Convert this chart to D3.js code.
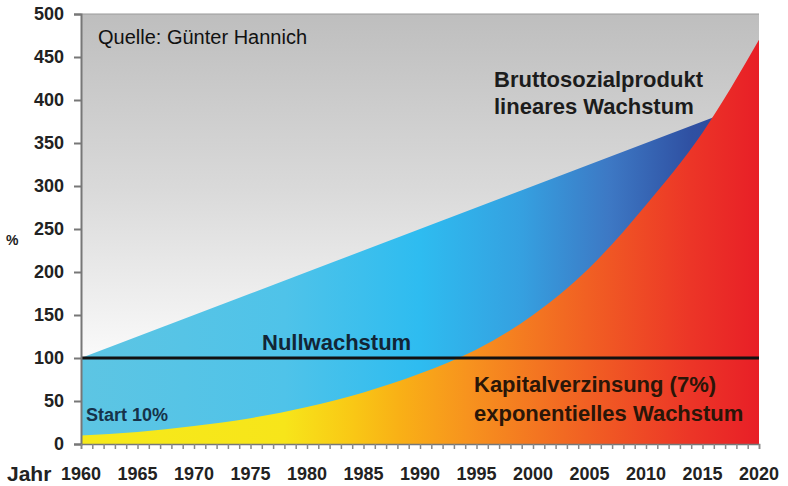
<!DOCTYPE html>
<html>
<head>
<meta charset="utf-8">
<script src="https://cdn.jsdelivr.net/npm/d3@7"></script>
<style>
  body { margin: 0; background: #fff; }
  svg text { font-family: "Liberation Sans", Arial, sans-serif; }
</style>
</head>
<body>
<svg width="788" height="486"></svg>
<script>
var svg = d3.select("svg");

// data
var years = [1960, 1965, 1970, 1975, 1980, 1985, 1990, 1995, 2000, 2005, 2010, 2015, 2020];
var linear = [100, 125, 150, 175, 200, 225, 250, 275, 300, 325, 350, 375, 400];
var exponential = [10, 14, 21, 30, 43, 60, 82, 110, 150, 205, 278, 362, 470];
var yTicks = [0, 50, 100, 150, 200, 250, 300, 350, 400, 450, 500];
var xLabels = [1960, 1965, 1970, 1975, 1980, 1985, 1990, 1995, 2000, 2005, 2010, 2015, 2020];
var baseline = 100;

var x = d3.scaleLinear().domain([1960, 2020]).range([81, 759]);
var y = d3.scaleLinear().domain([0, 500]).range([444, 14]);

var defs = svg.append("defs");

var bg = defs.append("linearGradient").attr("id", "bg")
    .attr("gradientUnits", "userSpaceOnUse")
    .attr("x1", 0).attr("x2", 0).attr("y1", y(500)).attr("y2", y(100));
bg.append("stop").attr("offset", 0).attr("stop-color", "#bebebe");
bg.append("stop").attr("offset", 0.5).attr("stop-color", "#d9d9d9");
bg.append("stop").attr("offset", 0.85).attr("stop-color", "#f0f0f0");
bg.append("stop").attr("offset", 1).attr("stop-color", "#fafafa");

var blue = defs.append("linearGradient").attr("id", "blue")
    .attr("gradientUnits", "userSpaceOnUse")
    .attr("x1", x(1960)).attr("x2", x(2020)).attr("y1", 0).attr("y2", 0);
[[0, "#5dc5e3"], [0.3, "#4fc3e9"], [0.5, "#2ebcf0"], [0.65, "#35a0e0"],
 [0.78, "#3d78c4"], [0.9, "#2f50a2"], [1, "#2c4598"]].forEach(function(s) {
    blue.append("stop").attr("offset", s[0]).attr("stop-color", s[1]);
});

var hot = defs.append("linearGradient").attr("id", "hot")
    .attr("gradientUnits", "userSpaceOnUse")
    .attr("x1", x(1960)).attr("x2", x(2020)).attr("y1", 0).attr("y2", 0);
[[0, "#f6ea1a"], [0.3, "#f7e51a"], [0.4, "#f9c815"], [0.47, "#f9b016"],
 [0.57, "#f7931e"], [0.71, "#f26a22"], [0.9, "#ec3527"], [1, "#e81f27"]].forEach(function(s) {
    hot.append("stop").attr("offset", s[0]).attr("stop-color", s[1]);
});

// plot background
svg.append("rect")
    .attr("x", x(1960)).attr("y", y(500))
    .attr("width", x(2020) - x(1960)).attr("height", y(0) - y(500))
    .attr("fill", "url(#bg)");

var blueArea = d3.area()
    .x(function(d, i) { return x(years[i]); })
    .y0(y(0))
    .y1(function(d) { return y(d); });

svg.append("path").datum(linear)
    .attr("d", blueArea)
    .attr("fill", "url(#blue)");

var hotArea = d3.area()
    .curve(d3.curveMonotoneX)
    .x(function(d, i) { return x(years[i]); })
    .y0(y(0))
    .y1(function(d) { return y(d); });

svg.append("path").datum(exponential)
    .attr("d", hotArea)
    .attr("fill", "url(#hot)");

// top edge
svg.append("line")
    .attr("x1", x(1960)).attr("x2", x(2020))
    .attr("y1", y(500)).attr("y2", y(500))
    .attr("stroke", "#999").attr("stroke-width", 1);

// Nullwachstum line
svg.append("line")
    .attr("x1", x(1960)).attr("x2", x(2020))
    .attr("y1", y(baseline)).attr("y2", y(baseline))
    .attr("stroke", "#111").attr("stroke-width", 3);

// y axis
var yAxis = svg.append("g")
    .attr("transform", "translate(" + x(1960) + ",0)")
    .call(d3.axisLeft(y).tickValues(yTicks).tickSize(7).tickPadding(10));
yAxis.select(".domain").attr("stroke", "#777").attr("stroke-width", 2);
yAxis.selectAll(".tick line").attr("stroke", "#777").attr("stroke-width", 2);
yAxis.selectAll("text")
    .attr("font-family", "Liberation Sans, Arial, sans-serif")
    .attr("font-size", 18).attr("font-weight", "bold").attr("fill", "#222");

// x axis, small ticks every year
var xAxis = svg.append("g")
    .attr("transform", "translate(0," + y(0) + ")")
    .call(d3.axisBottom(x).ticks(60).tickSize(5).tickFormat(""));
xAxis.select(".domain").attr("stroke", "#777").attr("stroke-width", 1.5);
xAxis.selectAll(".tick line").attr("stroke", "#888").attr("stroke-width", 1.5);

svg.append("g").selectAll("text")
    .data(xLabels)
    .enter()
    .append("text")
    .attr("x", function(d) { return x(d); })
    .attr("y", 480)
    .attr("text-anchor", "middle")
    .attr("font-size", 18).attr("font-weight", "bold").attr("fill", "#222")
    .text(function(d) { return d; });

svg.append("text").attr("x", 7).attr("y", 481)
    .attr("font-size", 21).attr("font-weight", "bold").attr("fill", "#222")
    .text("Jahr");

svg.append("text").attr("x", 6).attr("y", 245)
    .attr("font-size", 14).attr("font-weight", "bold").attr("fill", "#222")
    .text("%");

// annotations
svg.append("text").attr("x", 98).attr("y", 44)
    .attr("font-size", 20).attr("fill", "#111")
    .text("Quelle: Günter Hannich");

svg.append("text").attr("x", 494).attr("y", 87)
    .attr("font-size", 22).attr("font-weight", "bold").attr("fill", "#1c1c1c")
    .text("Bruttosozialprodukt");
svg.append("text").attr("x", 494).attr("y", 114)
    .attr("font-size", 22).attr("font-weight", "bold").attr("fill", "#1c1c1c")
    .text("lineares Wachstum");

svg.append("text").attr("x", 262).attr("y", 350)
    .attr("font-size", 22).attr("font-weight", "bold").attr("fill", "#122536")
    .text("Nullwachstum");

svg.append("text").attr("x", 474).attr("y", 392)
    .attr("font-size", 22).attr("font-weight", "bold").attr("fill", "#2a1608")
    .text("Kapitalverzinsung (7%)");
svg.append("text").attr("x", 474).attr("y", 421)
    .attr("font-size", 22).attr("font-weight", "bold").attr("fill", "#2a1608")
    .text("exponentielles Wachstum");

svg.append("text").attr("x", 86).attr("y", 421)
    .attr("font-size", 18).attr("font-weight", "bold").attr("fill", "#16324a")
    .text("Start 10%");
</script>
</body>
</html>
